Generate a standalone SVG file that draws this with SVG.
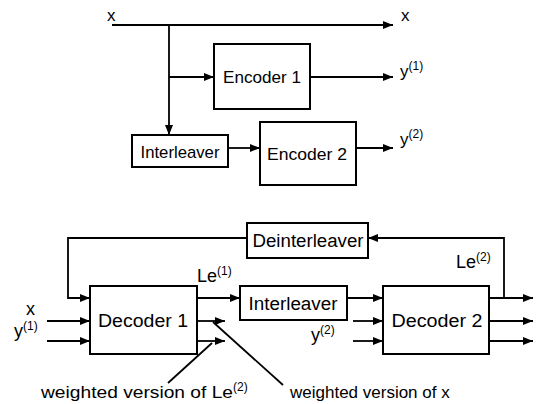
<svg xmlns="http://www.w3.org/2000/svg" width="538" height="404" viewBox="0 0 538 404">
<style>
  .box { fill: #fff; stroke: #000; stroke-width: 2; }
  .ln { fill: none; stroke: #000; stroke-width: 1.8; }
  .arr { marker-end: url(#ah); }
  text { font-family: "Liberation Sans", Arial, sans-serif; fill: #000; }
  .t1 { font-size: 17px; }
  .t2 { font-size: 18px; }
  .t3 { font-size: 17px; }
  .sup { font-size: 12px; }
  .mid { text-anchor: middle; }
</style>
<defs>
  <marker id="ah" viewBox="0 0 10 8" refX="10" refY="4" markerWidth="10" markerHeight="8" markerUnits="userSpaceOnUse" orient="auto">
    <path d="M0,0 L10,4 L0,8 z" fill="#000"/>
  </marker>
</defs>

<g id="connectors">
  <!-- top: encoder -->
  <path class="ln arr" d="M112,25 H393"/>
  <path class="ln arr" d="M169,25 V135"/>
  <path class="ln arr" d="M169,77 H214"/>
  <path class="ln arr" d="M310,77 H393"/>
  <path class="ln arr" d="M228,148 H260"/>
  <path class="ln arr" d="M356,148 H393"/>
  <!-- bottom: decoder -->
  <path class="ln arr" d="M504,298 V238 H368"/>
  <path class="ln arr" d="M247,238 H68 V298 H90"/>
  <path class="ln arr" d="M47,321 H90"/>
  <path class="ln arr" d="M47,341 H90"/>
  <path class="ln arr" d="M197,298 H240"/>
  <path class="ln arr" d="M197,321 H225"/>
  <path class="ln arr" d="M197,341 H225"/>
  <path class="ln arr" d="M347,298 H383"/>
  <path class="ln arr" d="M353,321 H383"/>
  <path class="ln arr" d="M353,341 H383"/>
  <path class="ln arr" d="M489,298 H533"/>
  <path class="ln arr" d="M489,321 H533"/>
  <path class="ln arr" d="M489,341 H533"/>
  <path class="ln" d="M212,343 L168,383" stroke-width="1.4"/>
  <path class="ln" d="M213,322 L283,385" stroke-width="1.4"/>
</g>

<g id="encoder1">
  <rect class="box" x="214" y="44" width="96" height="65"/>
  <text class="t1 mid" x="262" y="83" textLength="78" lengthAdjust="spacingAndGlyphs">Encoder 1</text>
</g>
<g id="encoder2">
  <rect class="box" x="260" y="122" width="96" height="63"/>
  <text class="t1 mid" x="307" y="160" textLength="80" lengthAdjust="spacingAndGlyphs">Encoder 2</text>
</g>
<g id="interleaver-top">
  <rect class="box" x="132" y="135" width="96" height="32"/>
  <text class="t1 mid" x="180" y="158" textLength="79" lengthAdjust="spacingAndGlyphs">Interleaver</text>
</g>

<g id="deinterleaver">
  <rect class="box" x="247" y="223" width="121" height="35"/>
  <text class="t2 mid" x="308" y="247" textLength="111" lengthAdjust="spacingAndGlyphs">Deinterleaver</text>
</g>
<g id="decoder1">
  <rect class="box" x="90" y="286" width="107" height="68"/>
  <text class="t2 mid" x="143" y="327" textLength="90" lengthAdjust="spacingAndGlyphs">Decoder 1</text>
</g>
<g id="interleaver-bottom">
  <rect class="box" x="240" y="286" width="107" height="34"/>
  <text class="t2 mid" x="293" y="310" textLength="89" lengthAdjust="spacingAndGlyphs">Interleaver</text>
</g>
<g id="decoder2">
  <rect class="box" x="383" y="286" width="106" height="68"/>
  <text class="t2 mid" x="437" y="327" textLength="91" lengthAdjust="spacingAndGlyphs">Decoder 2</text>
</g>

<g id="labels">
  <text class="t1" x="107" y="21">x</text>
  <text class="t1" x="401" y="21">x</text>
  <text class="t1" x="400" y="77">y<tspan class="sup" dy="-7">(1)</tspan></text>
  <text class="t1" x="400" y="145">y<tspan class="sup" dy="-7">(2)</tspan></text>
  <text class="t2" x="26" y="315">x</text>
  <text class="t2" x="14" y="337">y<tspan class="sup" dy="-7">(1)</tspan></text>
  <text class="t2" x="197" y="282">Le<tspan class="sup" dy="-7">(1)</tspan></text>
  <text class="t2" x="456" y="268">Le<tspan class="sup" dy="-7">(2)</tspan></text>
  <text class="t2" x="311" y="341">y<tspan class="sup" dy="-7">(2)</tspan></text>
  <text class="t3" x="41" y="398"><tspan textLength="192" lengthAdjust="spacingAndGlyphs">weighted version of Le</tspan><tspan class="sup" dy="-7">(2)</tspan></text>
  <text class="t3" x="290" y="398">weighted version of x</text>
</g>
</svg>
